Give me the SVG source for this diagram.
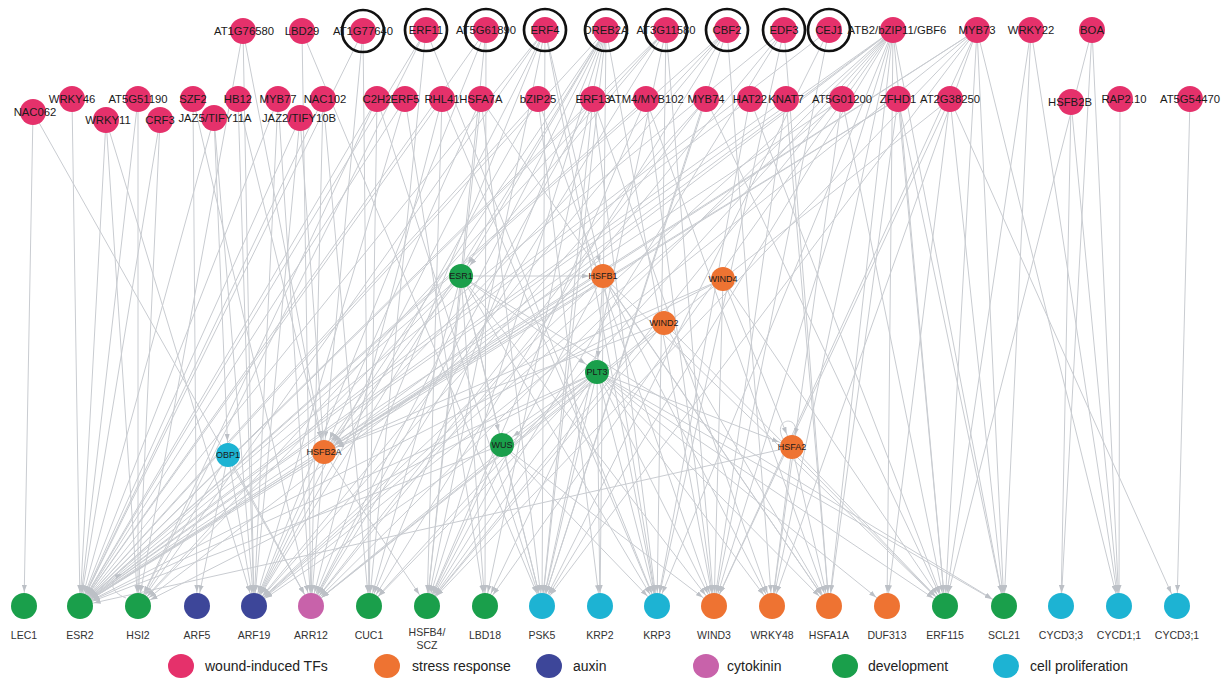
<svg xmlns="http://www.w3.org/2000/svg" width="1223" height="681" viewBox="0 0 1223 681">
<style>
text{font-family:"Liberation Sans",Arial,sans-serif;fill:#1a1a1a;text-anchor:middle}
.t{font-size:11.3px}
.m{font-size:9px}
.b{font-size:10.5px;fill:#333}
.lg{font-size:14px;text-anchor:start;fill:#222}
.w{fill:#E5316B}
.s{fill:#EE7332}
.ax{fill:#3D4699}
.ck{fill:#C862AA}
.d{fill:#1A9F4B}
.p{fill:#1DB3D3}
.ring{fill:none;stroke:#111;stroke-width:2.7}
#connectors line,#connectors path{stroke:#c9ccd1;stroke-width:1;fill:none;marker-end:url(#a)}
</style>
<defs>
<marker id="a" viewBox="0 0 7 5" refX="21" refY="2.5" markerWidth="7" markerHeight="5" orient="auto" markerUnits="userSpaceOnUse"><path d="M0,0L7,2.5L0,5z" fill="#bcc0c6"/></marker>
<marker id="a2" viewBox="0 0 7 5" refX="7" refY="2.5" markerWidth="7" markerHeight="5" orient="auto" markerUnits="userSpaceOnUse"><path d="M0,0L7,2.5L0,5z" fill="#bcc0c6"/></marker>
</defs>
<rect width="1223" height="681" fill="#fff"/>
<g id="connectors">
<line x1="33" y1="112" x2="24" y2="606"/>
<line x1="33" y1="112" x2="311" y2="606"/>
<line x1="72" y1="99" x2="80" y2="606"/>
<line x1="106" y1="120" x2="80" y2="606"/>
<line x1="106" y1="120" x2="138" y2="606"/>
<line x1="106" y1="120" x2="254" y2="606"/>
<line x1="138" y1="99" x2="80" y2="606"/>
<line x1="138" y1="99" x2="138" y2="606"/>
<line x1="160" y1="120" x2="80" y2="606"/>
<line x1="160" y1="120" x2="138" y2="606"/>
<line x1="193" y1="99" x2="197" y2="606"/>
<line x1="193" y1="99" x2="311" y2="606"/>
<line x1="214" y1="118" x2="80" y2="606"/>
<line x1="214" y1="118" x2="228" y2="455"/>
<line x1="214" y1="118" x2="254" y2="606"/>
<line x1="238" y1="99" x2="254" y2="606"/>
<line x1="238" y1="99" x2="324" y2="452"/>
<line x1="278" y1="99" x2="80" y2="606"/>
<line x1="278" y1="99" x2="254" y2="606"/>
<line x1="278" y1="99" x2="311" y2="606"/>
<line x1="300" y1="118" x2="80" y2="606"/>
<line x1="300" y1="118" x2="324" y2="452"/>
<line x1="300" y1="118" x2="254" y2="606"/>
<line x1="323" y1="99" x2="80" y2="606"/>
<line x1="323" y1="99" x2="311" y2="606"/>
<line x1="323" y1="99" x2="369" y2="606"/>
<line x1="243" y1="31" x2="254" y2="606"/>
<line x1="243" y1="31" x2="324" y2="452"/>
<line x1="243" y1="31" x2="138" y2="606"/>
<line x1="302" y1="31" x2="311" y2="606"/>
<line x1="302" y1="31" x2="542" y2="606"/>
<line x1="363" y1="31" x2="80" y2="606"/>
<line x1="363" y1="31" x2="324" y2="452"/>
<line x1="363" y1="31" x2="369" y2="606"/>
<line x1="426" y1="30" x2="80" y2="606"/>
<line x1="426" y1="30" x2="138" y2="606"/>
<line x1="426" y1="30" x2="369" y2="606"/>
<line x1="426" y1="30" x2="657" y2="606"/>
<line x1="486" y1="30" x2="80" y2="606"/>
<line x1="486" y1="30" x2="254" y2="606"/>
<line x1="486" y1="30" x2="427" y2="606"/>
<line x1="486" y1="30" x2="485" y2="606"/>
<line x1="545" y1="30" x2="80" y2="606"/>
<line x1="545" y1="30" x2="138" y2="606"/>
<line x1="545" y1="30" x2="254" y2="606"/>
<line x1="545" y1="30" x2="311" y2="606"/>
<line x1="545" y1="30" x2="427" y2="606"/>
<line x1="545" y1="30" x2="542" y2="606"/>
<line x1="545" y1="30" x2="657" y2="606"/>
<line x1="545" y1="30" x2="603" y2="276"/>
<line x1="606" y1="30" x2="80" y2="606"/>
<line x1="606" y1="30" x2="254" y2="606"/>
<line x1="606" y1="30" x2="311" y2="606"/>
<line x1="606" y1="30" x2="369" y2="606"/>
<line x1="606" y1="30" x2="427" y2="606"/>
<line x1="606" y1="30" x2="485" y2="606"/>
<line x1="606" y1="30" x2="542" y2="606"/>
<line x1="606" y1="30" x2="600" y2="606"/>
<line x1="606" y1="30" x2="714" y2="606"/>
<line x1="606" y1="30" x2="324" y2="452"/>
<line x1="606" y1="30" x2="461" y2="276"/>
<line x1="666" y1="30" x2="80" y2="606"/>
<line x1="666" y1="30" x2="138" y2="606"/>
<line x1="666" y1="30" x2="311" y2="606"/>
<line x1="666" y1="30" x2="542" y2="606"/>
<line x1="666" y1="30" x2="657" y2="606"/>
<line x1="666" y1="30" x2="714" y2="606"/>
<line x1="666" y1="30" x2="461" y2="276"/>
<line x1="727" y1="30" x2="80" y2="606"/>
<line x1="727" y1="30" x2="254" y2="606"/>
<line x1="727" y1="30" x2="324" y2="452"/>
<line x1="727" y1="30" x2="369" y2="606"/>
<line x1="727" y1="30" x2="542" y2="606"/>
<line x1="727" y1="30" x2="772" y2="606"/>
<line x1="784" y1="30" x2="80" y2="606"/>
<line x1="784" y1="30" x2="311" y2="606"/>
<line x1="784" y1="30" x2="427" y2="606"/>
<line x1="784" y1="30" x2="657" y2="606"/>
<line x1="784" y1="30" x2="829" y2="606"/>
<line x1="829" y1="30" x2="80" y2="606"/>
<line x1="829" y1="30" x2="542" y2="606"/>
<line x1="829" y1="30" x2="714" y2="606"/>
<line x1="893" y1="30" x2="80" y2="606"/>
<line x1="893" y1="30" x2="138" y2="606"/>
<line x1="893" y1="30" x2="254" y2="606"/>
<line x1="893" y1="30" x2="311" y2="606"/>
<line x1="893" y1="30" x2="324" y2="452"/>
<line x1="893" y1="30" x2="369" y2="606"/>
<line x1="893" y1="30" x2="427" y2="606"/>
<line x1="893" y1="30" x2="485" y2="606"/>
<line x1="893" y1="30" x2="542" y2="606"/>
<line x1="893" y1="30" x2="657" y2="606"/>
<line x1="893" y1="30" x2="714" y2="606"/>
<line x1="893" y1="30" x2="772" y2="606"/>
<line x1="893" y1="30" x2="829" y2="606"/>
<line x1="893" y1="30" x2="887" y2="606"/>
<line x1="893" y1="30" x2="945" y2="606"/>
<line x1="893" y1="30" x2="1004" y2="606"/>
<line x1="977" y1="30" x2="80" y2="606"/>
<line x1="977" y1="30" x2="254" y2="606"/>
<line x1="977" y1="30" x2="324" y2="452"/>
<line x1="977" y1="30" x2="427" y2="606"/>
<line x1="977" y1="30" x2="542" y2="606"/>
<line x1="977" y1="30" x2="714" y2="606"/>
<line x1="977" y1="30" x2="945" y2="606"/>
<line x1="977" y1="30" x2="1004" y2="606"/>
<line x1="977" y1="30" x2="1119" y2="606"/>
<line x1="977" y1="30" x2="772" y2="606"/>
<line x1="1031" y1="30" x2="1004" y2="606"/>
<line x1="1031" y1="30" x2="1119" y2="606"/>
<line x1="1031" y1="30" x2="945" y2="606"/>
<line x1="1092" y1="30" x2="945" y2="606"/>
<line x1="1092" y1="30" x2="1061" y2="606"/>
<line x1="1092" y1="30" x2="1119" y2="606"/>
<line x1="377" y1="99" x2="80" y2="606"/>
<line x1="377" y1="99" x2="138" y2="606"/>
<line x1="377" y1="99" x2="369" y2="606"/>
<line x1="377" y1="99" x2="542" y2="606"/>
<line x1="405" y1="99" x2="80" y2="606"/>
<line x1="405" y1="99" x2="254" y2="606"/>
<line x1="405" y1="99" x2="485" y2="606"/>
<line x1="442" y1="99" x2="80" y2="606"/>
<line x1="442" y1="99" x2="311" y2="606"/>
<line x1="442" y1="99" x2="427" y2="606"/>
<line x1="442" y1="99" x2="657" y2="606"/>
<line x1="481" y1="99" x2="427" y2="606"/>
<line x1="481" y1="99" x2="542" y2="606"/>
<line x1="481" y1="99" x2="324" y2="452"/>
<line x1="481" y1="99" x2="829" y2="606"/>
<line x1="538" y1="99" x2="80" y2="606"/>
<line x1="538" y1="99" x2="254" y2="606"/>
<line x1="538" y1="99" x2="600" y2="606"/>
<line x1="538" y1="99" x2="714" y2="606"/>
<line x1="593" y1="99" x2="80" y2="606"/>
<line x1="593" y1="99" x2="311" y2="606"/>
<line x1="593" y1="99" x2="542" y2="606"/>
<line x1="593" y1="99" x2="657" y2="606"/>
<line x1="593" y1="99" x2="772" y2="606"/>
<line x1="646" y1="99" x2="80" y2="606"/>
<line x1="646" y1="99" x2="427" y2="606"/>
<line x1="646" y1="99" x2="714" y2="606"/>
<line x1="646" y1="99" x2="829" y2="606"/>
<line x1="706" y1="99" x2="254" y2="606"/>
<line x1="706" y1="99" x2="311" y2="606"/>
<line x1="706" y1="99" x2="542" y2="606"/>
<line x1="706" y1="99" x2="945" y2="606"/>
<line x1="750" y1="99" x2="80" y2="606"/>
<line x1="750" y1="99" x2="657" y2="606"/>
<line x1="750" y1="99" x2="945" y2="606"/>
<line x1="786" y1="99" x2="80" y2="606"/>
<line x1="786" y1="99" x2="714" y2="606"/>
<line x1="786" y1="99" x2="829" y2="606"/>
<line x1="842" y1="99" x2="80" y2="606"/>
<line x1="842" y1="99" x2="254" y2="606"/>
<line x1="842" y1="99" x2="772" y2="606"/>
<line x1="842" y1="99" x2="945" y2="606"/>
<line x1="898" y1="99" x2="80" y2="606"/>
<line x1="898" y1="99" x2="324" y2="452"/>
<line x1="898" y1="99" x2="829" y2="606"/>
<line x1="898" y1="99" x2="945" y2="606"/>
<line x1="898" y1="99" x2="1004" y2="606"/>
<line x1="950" y1="99" x2="311" y2="606"/>
<line x1="950" y1="99" x2="714" y2="606"/>
<line x1="950" y1="99" x2="887" y2="606"/>
<line x1="950" y1="99" x2="1004" y2="606"/>
<line x1="950" y1="99" x2="1177" y2="606"/>
<line x1="1071" y1="102" x2="1061" y2="606"/>
<line x1="1071" y1="102" x2="1119" y2="606"/>
<line x1="1120" y1="99" x2="1119" y2="606"/>
<line x1="1190" y1="99" x2="1177" y2="606"/>
<line x1="461" y1="276" x2="80" y2="606"/>
<line x1="461" y1="276" x2="138" y2="606"/>
<line x1="461" y1="276" x2="324" y2="452"/>
<line x1="461" y1="276" x2="502" y2="445"/>
<line x1="461" y1="276" x2="542" y2="606"/>
<line x1="461" y1="276" x2="657" y2="606"/>
<line x1="461" y1="276" x2="714" y2="606"/>
<line x1="461" y1="276" x2="1004" y2="606"/>
<line x1="461" y1="276" x2="597" y2="372"/>
<line x1="461" y1="276" x2="369" y2="606"/>
<line x1="461" y1="276" x2="485" y2="606"/>
<line x1="461" y1="276" x2="603" y2="276"/>
<line x1="603" y1="276" x2="597" y2="372"/>
<line x1="603" y1="276" x2="80" y2="606"/>
<line x1="603" y1="276" x2="254" y2="606"/>
<line x1="603" y1="276" x2="324" y2="452"/>
<line x1="603" y1="276" x2="427" y2="606"/>
<line x1="603" y1="276" x2="657" y2="606"/>
<line x1="603" y1="276" x2="772" y2="606"/>
<line x1="603" y1="276" x2="829" y2="606"/>
<line x1="603" y1="276" x2="945" y2="606"/>
<line x1="723" y1="279" x2="324" y2="452"/>
<line x1="723" y1="279" x2="80" y2="606"/>
<line x1="723" y1="279" x2="792" y2="447"/>
<line x1="723" y1="279" x2="945" y2="606"/>
<line x1="723" y1="279" x2="714" y2="606"/>
<line x1="664" y1="323" x2="311" y2="606"/>
<line x1="664" y1="323" x2="427" y2="606"/>
<line x1="664" y1="323" x2="945" y2="606"/>
<line x1="664" y1="323" x2="829" y2="606"/>
<line x1="664" y1="323" x2="324" y2="452"/>
<line x1="597" y1="372" x2="80" y2="606"/>
<line x1="597" y1="372" x2="138" y2="606"/>
<line x1="597" y1="372" x2="254" y2="606"/>
<line x1="597" y1="372" x2="311" y2="606"/>
<line x1="597" y1="372" x2="369" y2="606"/>
<line x1="597" y1="372" x2="427" y2="606"/>
<line x1="597" y1="372" x2="485" y2="606"/>
<line x1="597" y1="372" x2="542" y2="606"/>
<line x1="597" y1="372" x2="600" y2="606"/>
<line x1="597" y1="372" x2="657" y2="606"/>
<line x1="597" y1="372" x2="714" y2="606"/>
<line x1="597" y1="372" x2="772" y2="606"/>
<line x1="597" y1="372" x2="829" y2="606"/>
<line x1="597" y1="372" x2="887" y2="606"/>
<line x1="597" y1="372" x2="945" y2="606"/>
<line x1="597" y1="372" x2="1004" y2="606"/>
<line x1="597" y1="372" x2="792" y2="447"/>
<line x1="597" y1="372" x2="502" y2="445"/>
<line x1="228" y1="455" x2="254" y2="606"/>
<line x1="228" y1="455" x2="311" y2="606"/>
<line x1="228" y1="455" x2="138" y2="606"/>
<line x1="228" y1="455" x2="197" y2="606"/>
<line x1="324" y1="452" x2="254" y2="606"/>
<line x1="324" y1="452" x2="311" y2="606"/>
<line x1="324" y1="452" x2="427" y2="606"/>
<line x1="324" y1="452" x2="80" y2="606"/>
<line x1="502" y1="445" x2="542" y2="606"/>
<line x1="502" y1="445" x2="427" y2="606"/>
<line x1="502" y1="445" x2="657" y2="606"/>
<line x1="502" y1="445" x2="80" y2="606"/>
<line x1="502" y1="445" x2="714" y2="606"/>
<line x1="792" y1="447" x2="829" y2="606"/>
<line x1="792" y1="447" x2="772" y2="606"/>
<line x1="792" y1="447" x2="945" y2="606"/>
<line x1="792" y1="447" x2="80" y2="606"/>
<path d="M783,439 C772,418 800,414 795,435" style="marker-end:url(#a2)"/>
<path d="M126,598 C110,592 108,580 122,574" style="marker-end:url(#a2)"/>
</g>
<g id="n-AT1G76580"><circle class="w" cx="243" cy="31" r="13"/><text class="t" x="244" y="35">AT1G76580</text></g>
<g id="n-LBD29"><circle class="w" cx="302" cy="31" r="13"/><text class="t" x="302" y="35">LBD29</text></g>
<g id="n-AT1G77640"><circle class="w" cx="363" cy="31" r="13"/><circle class="ring" cx="363" cy="31" r="21"/><text class="t" x="363" y="35">AT1G77640</text></g>
<g id="n-ERF11"><circle class="w" cx="426" cy="30" r="13"/><circle class="ring" cx="426" cy="30" r="21"/><text class="t" x="426" y="34">ERF11</text></g>
<g id="n-AT5G61890"><circle class="w" cx="486" cy="30" r="13"/><circle class="ring" cx="486" cy="30" r="21"/><text class="t" x="486" y="34">AT5G61890</text></g>
<g id="n-ERF4"><circle class="w" cx="545" cy="30" r="13"/><circle class="ring" cx="545" cy="30" r="21"/><text class="t" x="545" y="34">ERF4</text></g>
<g id="n-DREB2A"><circle class="w" cx="606" cy="30" r="13"/><circle class="ring" cx="606" cy="30" r="21"/><text class="t" x="606" y="34">DREB2A</text></g>
<g id="n-AT3G11580"><circle class="w" cx="666" cy="30" r="13"/><circle class="ring" cx="666" cy="30" r="21"/><text class="t" x="666" y="34">AT3G11580</text></g>
<g id="n-CBF2"><circle class="w" cx="727" cy="30" r="13"/><circle class="ring" cx="727" cy="30" r="21"/><text class="t" x="727" y="34">CBF2</text></g>
<g id="n-EDF3"><circle class="w" cx="784" cy="30" r="13"/><circle class="ring" cx="784" cy="30" r="21"/><text class="t" x="784" y="34">EDF3</text></g>
<g id="n-CEJ1"><circle class="w" cx="829" cy="30" r="13"/><circle class="ring" cx="829" cy="30" r="21"/><text class="t" x="829" y="34">CEJ1</text></g>
<g id="n-ATB2"><circle class="w" cx="893" cy="30" r="13"/><text class="t" x="897" y="34">ATB2/bZIP11/GBF6</text></g>
<g id="n-MYB73"><circle class="w" cx="977" cy="30" r="13"/><text class="t" x="977" y="34">MYB73</text></g>
<g id="n-WRKY22"><circle class="w" cx="1031" cy="30" r="13"/><text class="t" x="1031" y="34">WRKY22</text></g>
<g id="n-BOA"><circle class="w" cx="1092" cy="30" r="13"/><text class="t" x="1092" y="34">BOA</text></g>
<g id="n-NAC062"><circle class="w" cx="33" cy="112" r="13"/><text class="t" x="35" y="116">NAC062</text></g>
<g id="n-WRKY46"><circle class="w" cx="72" cy="99" r="13"/><text class="t" x="72" y="103">WRKY46</text></g>
<g id="n-WRKY11"><circle class="w" cx="106" cy="120" r="13"/><text class="t" x="108" y="124">WRKY11</text></g>
<g id="n-AT5G51190"><circle class="w" cx="138" cy="99" r="13"/><text class="t" x="138" y="103">AT5G51190</text></g>
<g id="n-CRF3"><circle class="w" cx="160" cy="120" r="13"/><text class="t" x="160" y="124">CRF3</text></g>
<g id="n-SZF2"><circle class="w" cx="193" cy="99" r="13"/><text class="t" x="193" y="103">SZF2</text></g>
<g id="n-JAZ5"><circle class="w" cx="214" cy="118" r="13"/><text class="t" x="215" y="122">JAZ5/TIFY11A</text></g>
<g id="n-HB12"><circle class="w" cx="238" cy="99" r="13"/><text class="t" x="238" y="103">HB12</text></g>
<g id="n-MYB77"><circle class="w" cx="278" cy="99" r="13"/><text class="t" x="278" y="103">MYB77</text></g>
<g id="n-JAZ2"><circle class="w" cx="300" cy="118" r="13"/><text class="t" x="299" y="122">JAZ2/TIFY10B</text></g>
<g id="n-NAC102"><circle class="w" cx="323" cy="99" r="13"/><text class="t" x="325" y="103">NAC102</text></g>
<g id="n-C2H2"><circle class="w" cx="377" cy="99" r="13"/><text class="t" x="377" y="103">C2H2</text></g>
<g id="n-ERF5"><circle class="w" cx="405" cy="99" r="13"/><text class="t" x="405" y="103">ERF5</text></g>
<g id="n-RHL41"><circle class="w" cx="442" cy="99" r="13"/><text class="t" x="442" y="103">RHL41</text></g>
<g id="n-HSFA7A"><circle class="w" cx="481" cy="99" r="13"/><text class="t" x="481" y="103">HSFA7A</text></g>
<g id="n-bZIP25"><circle class="w" cx="538" cy="99" r="13"/><text class="t" x="538" y="103">bZIP25</text></g>
<g id="n-ERF13"><circle class="w" cx="593" cy="99" r="13"/><text class="t" x="593" y="103">ERF13</text></g>
<g id="n-ATM4"><circle class="w" cx="646" cy="99" r="13"/><text class="t" x="646" y="103">ATM4/MYB102</text></g>
<g id="n-MYB74"><circle class="w" cx="706" cy="99" r="13"/><text class="t" x="706" y="103">MYB74</text></g>
<g id="n-HAT22"><circle class="w" cx="750" cy="99" r="13"/><text class="t" x="750" y="103">HAT22</text></g>
<g id="n-KNAT7"><circle class="w" cx="786" cy="99" r="13"/><text class="t" x="786" y="103">KNAT7</text></g>
<g id="n-AT5G01200"><circle class="w" cx="842" cy="99" r="13"/><text class="t" x="842" y="103">AT5G01200</text></g>
<g id="n-ZFHD1"><circle class="w" cx="898" cy="99" r="13"/><text class="t" x="898" y="103">ZFHD1</text></g>
<g id="n-AT2G38250"><circle class="w" cx="950" cy="99" r="13"/><text class="t" x="950" y="103">AT2G38250</text></g>
<g id="n-HSFB2B"><circle class="w" cx="1071" cy="102" r="13"/><text class="t" x="1070" y="106">HSFB2B</text></g>
<g id="n-RAP2.10"><circle class="w" cx="1120" cy="99" r="13"/><text class="t" x="1124" y="103">RAP2.10</text></g>
<g id="n-AT5G54470"><circle class="w" cx="1190" cy="99" r="13"/><text class="t" x="1190" y="103">AT5G54470</text></g>
<g id="n-ESR1"><circle class="d" cx="461" cy="276" r="12"/><text class="m" x="461" y="279">ESR1</text></g>
<g id="n-HSFB1"><circle class="s" cx="603" cy="276" r="12"/><text class="m" x="603" y="279">HSFB1</text></g>
<g id="n-WIND4"><circle class="s" cx="723" cy="279" r="12"/><text class="m" x="723" y="282">WIND4</text></g>
<g id="n-WIND2"><circle class="s" cx="664" cy="323" r="12"/><text class="m" x="664" y="326">WIND2</text></g>
<g id="n-PLT3"><circle class="d" cx="597" cy="372" r="12"/><text class="m" x="597" y="375">PLT3</text></g>
<g id="n-OBP1"><circle class="p" cx="228" cy="455" r="12"/><text class="m" x="228" y="458">OBP1</text></g>
<g id="n-HSFB2A"><circle class="s" cx="324" cy="452" r="12"/><text class="m" x="324" y="455">HSFB2A</text></g>
<g id="n-WUS"><circle class="d" cx="502" cy="445" r="12"/><text class="m" x="502" y="448">WUS</text></g>
<g id="n-HSFA2"><circle class="s" cx="792" cy="447" r="12"/><text class="m" x="792" y="450">HSFA2</text></g>
<g id="n-LEC1"><circle class="d" cx="24" cy="606" r="13"/><text class="b" x="24" y="639">LEC1</text></g>
<g id="n-ESR2"><circle class="d" cx="80" cy="606" r="13"/><text class="b" x="80" y="639">ESR2</text></g>
<g id="n-HSI2"><circle class="d" cx="138" cy="606" r="13"/><text class="b" x="138" y="639">HSI2</text></g>
<g id="n-ARF5"><circle class="ax" cx="197" cy="606" r="13"/><text class="b" x="197" y="639">ARF5</text></g>
<g id="n-ARF19"><circle class="ax" cx="254" cy="606" r="13"/><text class="b" x="254" y="639">ARF19</text></g>
<g id="n-ARR12"><circle class="ck" cx="311" cy="606" r="13"/><text class="b" x="311" y="639">ARR12</text></g>
<g id="n-CUC1"><circle class="d" cx="369" cy="606" r="13"/><text class="b" x="369" y="639">CUC1</text></g>
<g id="n-HSFB4"><circle class="d" cx="427" cy="606" r="13"/><text class="b" x="427" y="636">HSFB4/</text><text class="b" x="427" y="649">SCZ</text></g>
<g id="n-LBD18"><circle class="d" cx="485" cy="606" r="13"/><text class="b" x="485" y="639">LBD18</text></g>
<g id="n-PSK5"><circle class="p" cx="542" cy="606" r="13"/><text class="b" x="542" y="639">PSK5</text></g>
<g id="n-KRP2"><circle class="p" cx="600" cy="606" r="13"/><text class="b" x="600" y="639">KRP2</text></g>
<g id="n-KRP3"><circle class="p" cx="657" cy="606" r="13"/><text class="b" x="657" y="639">KRP3</text></g>
<g id="n-WIND3"><circle class="s" cx="714" cy="606" r="13"/><text class="b" x="714" y="639">WIND3</text></g>
<g id="n-WRKY48"><circle class="s" cx="772" cy="606" r="13"/><text class="b" x="772" y="639">WRKY48</text></g>
<g id="n-HSFA1A"><circle class="s" cx="829" cy="606" r="13"/><text class="b" x="829" y="639">HSFA1A</text></g>
<g id="n-DUF313"><circle class="s" cx="887" cy="606" r="13"/><text class="b" x="887" y="639">DUF313</text></g>
<g id="n-ERF115"><circle class="d" cx="945" cy="606" r="13"/><text class="b" x="945" y="639">ERF115</text></g>
<g id="n-SCL21"><circle class="d" cx="1004" cy="606" r="13"/><text class="b" x="1004" y="639">SCL21</text></g>
<g id="n-CYCD3_3"><circle class="p" cx="1061" cy="606" r="13"/><text class="b" x="1061" y="639">CYCD3;3</text></g>
<g id="n-CYCD1_1"><circle class="p" cx="1119" cy="606" r="13"/><text class="b" x="1119" y="639">CYCD1;1</text></g>
<g id="n-CYCD3_1"><circle class="p" cx="1177" cy="606" r="13"/><text class="b" x="1177" y="639">CYCD3;1</text></g>
<g id="legend">
<ellipse class="w" cx="181" cy="666" rx="13" ry="12"/><text class="lg" x="205" y="671">wound-induced TFs</text>
<ellipse class="s" cx="387" cy="666" rx="13" ry="12"/><text class="lg" x="412" y="671">stress response</text>
<ellipse class="ax" cx="549" cy="666" rx="13" ry="12"/><text class="lg" x="573" y="671">auxin</text>
<ellipse class="ck" cx="706" cy="666" rx="13" ry="12"/><text class="lg" x="727" y="671">cytokinin</text>
<ellipse class="d" cx="845" cy="666" rx="13" ry="12"/><text class="lg" x="868" y="671">development</text>
<ellipse class="p" cx="1006" cy="666" rx="13" ry="12"/><text class="lg" x="1030" y="671">cell proliferation</text>
</g>
</svg>
